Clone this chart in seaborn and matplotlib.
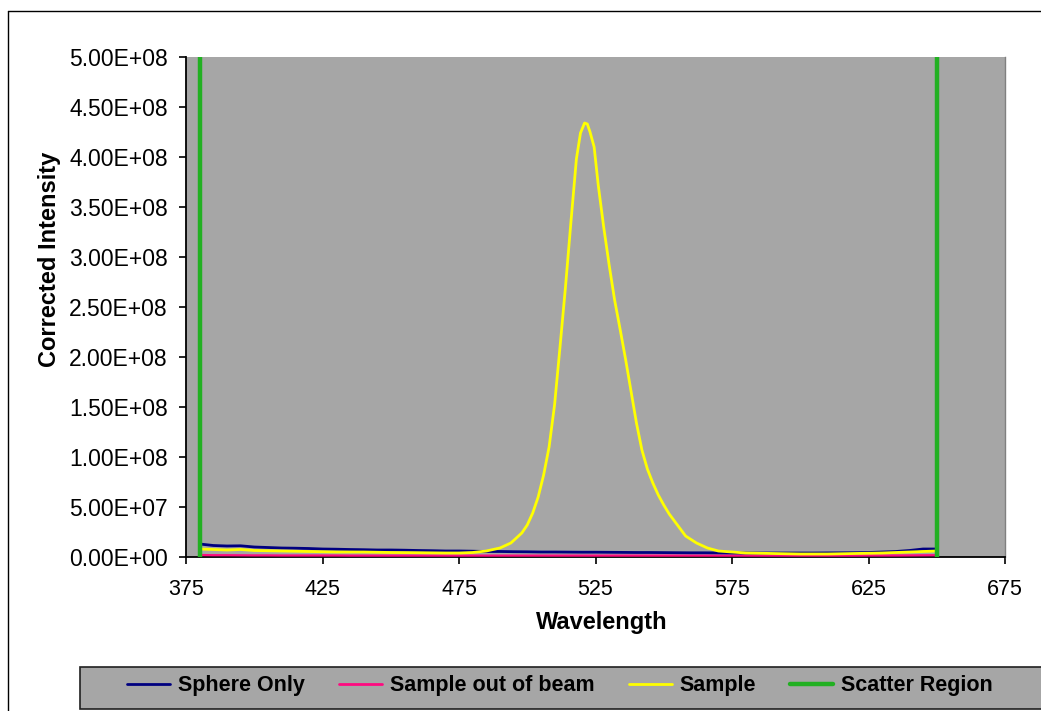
import numpy as np
import pandas as pd
import matplotlib
matplotlib.use("Agg")
import matplotlib.pyplot as plt
from matplotlib.lines import Line2D
from matplotlib.patches import Rectangle
import seaborn as sns

# ---- data (intensities in units of 1e6 counts) ----
base_wl = [380, 385, 390, 395, 400, 405, 410, 415, 420, 425, 430, 435, 440, 445, 450,
           455, 460, 465, 470, 475, 480, 485, 490, 495, 500, 505, 510, 515, 520, 525,
           530, 535, 540, 545, 550, 555, 560, 565, 570, 575, 580, 585, 590, 595, 600,
           605, 610, 615, 620, 625, 630, 635, 640, 645, 650]
sphere_only = [13.0, 11.5, 11.0, 11.2, 10.0, 9.5, 9.0, 8.8, 8.5, 8.0, 7.8, 7.5, 7.3, 7.0, 7.0,
               6.8, 6.5, 6.3, 6.0, 6.0, 5.8, 5.5, 5.5, 5.3, 5.2, 5.0, 5.0, 4.9, 4.8, 4.8,
               4.7, 4.6, 4.5, 4.5, 4.4, 4.3, 4.2, 4.2, 4.1, 4.0, 4.0, 4.0, 4.0, 4.0, 4.0,
               4.0, 4.1, 4.2, 4.3, 4.5, 5.0, 5.5, 6.5, 8.0, 8.0]
sample_out = [2.0, 1.8, 1.8, 1.7, 1.6, 1.6, 1.5, 1.5, 1.5, 1.5, 1.5, 1.4, 1.4, 1.4, 1.4,
              1.4, 1.4, 1.4, 1.4, 1.4, 1.4, 1.4, 1.4, 1.4, 1.4, 1.4, 1.4, 1.4, 1.4, 1.4,
              1.4, 1.4, 1.4, 1.4, 1.4, 1.4, 1.4, 1.4, 1.4, 1.4, 1.4, 1.4, 1.4, 1.4, 1.4,
              1.4, 1.4, 1.4, 1.4, 1.5, 1.5, 1.5, 1.6, 1.7, 1.8]

sample_wl = [380, 385, 390, 395, 400, 410, 420, 430, 440, 450, 460, 470, 475, 480, 485,
             490, 494, 498, 500, 502, 504, 506, 508, 510, 512, 514, 516, 518, 519.5, 521,
             522, 523, 524.5, 526, 528, 530, 532, 534, 536, 538, 540, 542, 544, 546, 548,
             550, 552, 555, 558, 562, 566, 570, 575, 580, 590, 600, 610, 620, 630, 640, 650]
sample = [8.0, 7.5, 7.0, 7.5, 6.5, 6.0, 5.5, 5.0, 5.0, 4.5, 4.3, 4.0, 4.0, 4.5, 6.0,
          9.0, 14.0, 24.0, 32.0, 44.0, 60.0, 82.0, 110.0, 152.0, 210.0, 270.0, 335.0, 398.0, 424.0, 434.0,
          433.0, 425.0, 410.0, 372.0, 330.0, 292.0, 257.0, 228.0, 198.0, 166.0, 134.0, 107.0, 88.0, 74.0, 62.0,
          52.0, 43.0, 32.0, 21.0, 14.0, 9.0, 6.0, 5.0, 4.0, 3.5, 3.0, 3.0, 3.5, 4.0, 5.0, 6.0]

scatter_wl = [380, 650]
scatter_top = 5.0e8

x_ticks = [375, 425, 475, 525, 575, 625, 675]
y_ticks = [0, 0.5e8, 1.0e8, 1.5e8, 2.0e8, 2.5e8, 3.0e8, 3.5e8, 4.0e8, 4.5e8, 5.0e8]

series_names = ["Sphere Only", "Sample out of beam", "Sample", "Scatter Region"]
colors = {"Sphere Only": "#000080", "Sample out of beam": "#FF0A80",
          "Sample": "#FFFF00", "Scatter Region": "#22B022"}

scale = 1e6
df_base = pd.concat([
    pd.DataFrame({"wl": base_wl, "val": np.array(sphere_only) * scale, "series": "Sphere Only"}),
    pd.DataFrame({"wl": base_wl, "val": np.array(sample_out) * scale, "series": "Sample out of beam"}),
])
df_sample = pd.DataFrame({"wl": sample_wl, "val": np.array(sample) * scale, "series": "Sample"})

sns.set_theme(style="white")
plt.rcParams["font.family"] = ["Liberation Sans", "DejaVu Sans"]
plt.rcParams["text.color"] = "black"
plt.rcParams["axes.labelcolor"] = "black"
plt.rcParams["xtick.color"] = "black"
plt.rcParams["ytick.color"] = "black"

fig = plt.figure(figsize=(10.41, 7.11), dpi=100)
fig.patch.set_facecolor("white")
ax = fig.add_axes([186 / 1041, 1 - 557 / 711, (1005 - 186) / 1041, 500 / 711])
ax.set_facecolor("#A6A6A6")

sns.lineplot(data=df_base[df_base.series == "Sample out of beam"], x="wl", y="val",
             color=colors["Sample out of beam"], lw=1.6, ax=ax, legend=False,
             estimator=None, sort=False, zorder=3)
sns.lineplot(data=df_base[df_base.series == "Sphere Only"], x="wl", y="val",
             color=colors["Sphere Only"], lw=2.0, ax=ax, legend=False,
             estimator=None, sort=False, zorder=4)
sns.lineplot(data=df_sample, x="wl", y="val", color=colors["Sample"], lw=2.0, ax=ax,
             legend=False, estimator=None, sort=False, zorder=5)
ax.vlines(scatter_wl, 0, scatter_top, colors=colors["Scatter Region"], lw=3.2, zorder=6)

ax.set_xlim(375, 675)
ax.set_ylim(0, 5e8)
ax.set_xticks(x_ticks)
ax.set_xticklabels([str(t) for t in x_ticks])
ax.set_yticks(y_ticks)
ax.set_yticklabels([f"{t:.2E}" for t in y_ticks])
ax.tick_params(axis="both", which="major", colors="black",
               length=5, width=1.2, direction="out", bottom=True, left=True)
ax.tick_params(axis="x", pad=11, labelsize=15.5)
ax.tick_params(axis="y", pad=8, labelsize=16.5)

for s in ["left", "bottom"]:
    ax.spines[s].set_color("black")
    ax.spines[s].set_linewidth(1.3)
ax.spines["right"].set_color("#808080")
ax.spines["right"].set_linewidth(1.0)
ax.spines["top"].set_visible(False)

ax.set_xlabel("Wavelength", fontsize=17, fontweight="bold", color="black")
ax.set_ylabel("Corrected Intensity", fontsize=17, fontweight="bold", color="black")
ax.xaxis.set_label_coords((602 - 186) / 819, (557 - 611) / 500)
ax.yaxis.set_label_coords((61 - 186) / 819, (557 - 259) / 500)

# chart border
fig.add_artist(Line2D([8 / 1041, 8 / 1041], [0, 1 - 11 / 711], color="black", lw=1.0,
                      transform=fig.transFigure))
fig.add_artist(Line2D([8 / 1041, 1], [1 - 11 / 711, 1 - 11 / 711], color="black", lw=1.0,
                      transform=fig.transFigure))

# legend box
fig.add_artist(Rectangle((80 / 1041, 1 - 709 / 711), 1.0, (709 - 667) / 711,
                         facecolor="#A6A6A6", edgecolor="#202020", lw=1.2,
                         transform=fig.transFigure, zorder=1))
handles = [Line2D([], [], color=colors[n], lw=(3.2 if n == "Scatter Region" else 2.0))
           for n in series_names]
leg = fig.legend(handles, series_names, loc="center", bbox_to_anchor=(560 / 1041, 1 - 686 / 711),
                 ncol=4, frameon=False, handlelength=2.0, handletextpad=0.35,
                 columnspacing=1.6, prop={"weight": "bold", "size": 15.5})
for t in leg.get_texts():
    t.set_color("black")
leg.set_zorder(2)

fig.savefig("out.png", dpi=100, facecolor="white")
